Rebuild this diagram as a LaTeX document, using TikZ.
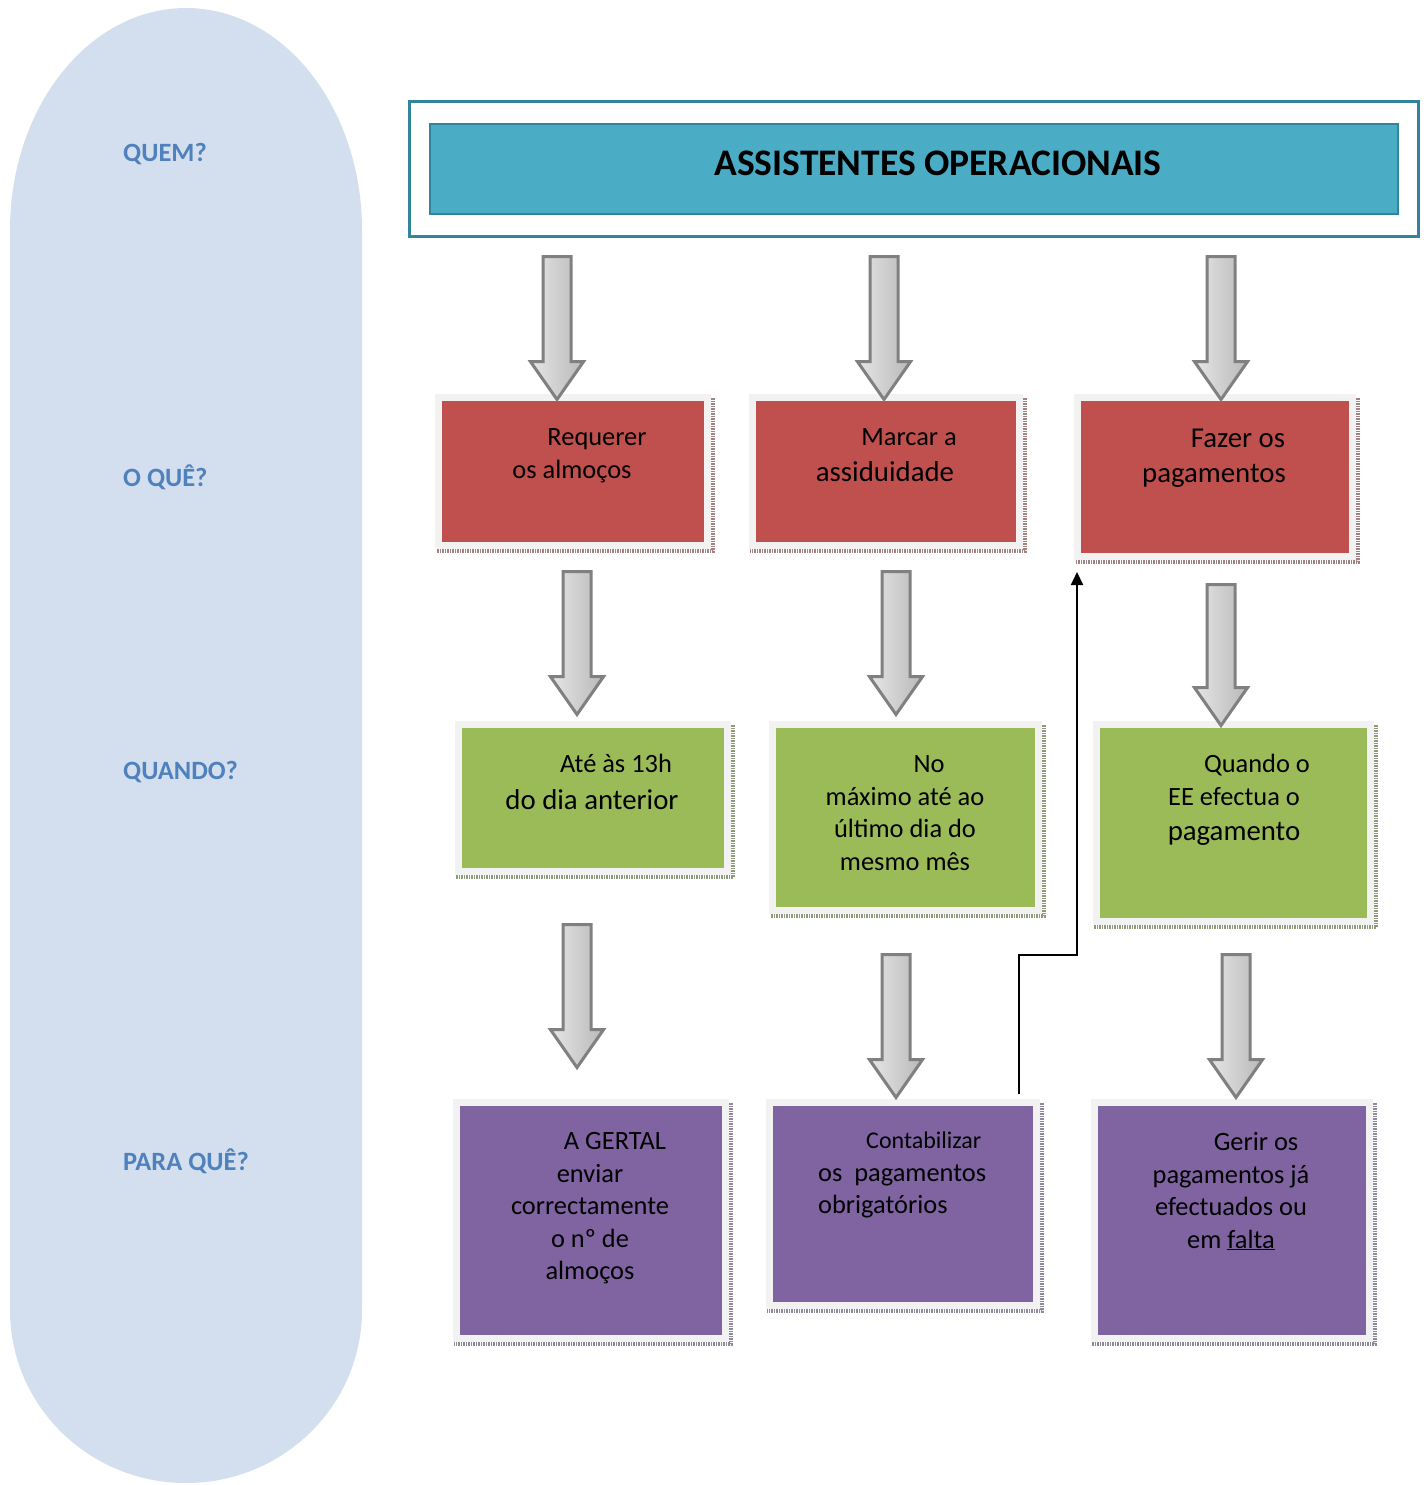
\documentclass[tikz,border=0pt]{standalone}
\usepackage{fontspec}
\setmainfont{Carlito}
\usetikzlibrary{positioning,arrows.meta,shapes.arrows}
\definecolor{pillblue}{HTML}{D3DFEE}
\definecolor{lblblue}{HTML}{4F81BD}
\definecolor{titlefill}{HTML}{4BACC6}
\definecolor{titleline}{HTML}{31849B}
\definecolor{redfill}{HTML}{C0504D}
\definecolor{greenfill}{HTML}{9BBB59}
\definecolor{purplefill}{HTML}{8064A2}
\definecolor{framegray}{HTML}{F2F2F2}
\definecolor{redshd}{HTML}{A08282}
\definecolor{greenshd}{HTML}{8E987A}
\definecolor{purpleshd}{HTML}{8F8899}
\newcommand{\fsmall}{\fontsize{24}{29}\selectfont}
\newcommand{\fnorm}{\fontsize{26.4}{32.5}\selectfont}
\newcommand{\fbig}{\fontsize{28.8}{35}\selectfont}
\tikzset{
  lbl/.style={font=\fnorm\bfseries, text=lblblue, inner sep=0, anchor=base west},
  card/.style={draw=framegray, line width=7pt, inner sep=0},
  txt/.style={font=\fnorm, align=center, inner sep=0, anchor=north},
  shd/.style={line width=3.5pt, dash pattern=on 1.5pt off 1pt},
  down/.style={single arrow, rotate=-90, anchor=tail, draw=gray, line width=3pt,
               minimum height=143pt, inner xsep=0, inner ysep=12.5pt,
               single arrow head extend=12.5pt, single arrow tip angle=70,
               shading=axis, left color=gray!20, right color=gray!55},
  link/.style={-{Triangle[length=13pt,width=12pt]}, line width=2pt},
}
\begin{document}
\begin{tikzpicture}[x=1pt,y=1pt]
  \useasboundingbox (0,0) rectangle (1425,-1485);
  % left band
  \fill[pillblue] (10,-230) arc[start angle=180, end angle=0, x radius=176pt, y radius=222pt]
    -- (362,-1310) arc[start angle=0, end angle=-180, x radius=176pt, y radius=173pt] -- cycle;
  \node[lbl] (quem) at (123,-161) {QUEM?};
  \node[lbl] (oque) at (123,-486) {O QUÊ?};
  \node[lbl] (quando) at (123,-779) {QUANDO?};
  \node[lbl] (paraque) at (123,-1170) {PARA QUÊ?};

  % title
  \node[draw=titleline, line width=3pt, fill=white, minimum width=1009pt,
        minimum height=134pt, inner sep=0] (hdr) at (913.5,-169) {};
  \node[draw=titleline, line width=2pt, fill=titlefill, minimum width=968pt,
        minimum height=90pt, inner sep=0] (hdrin) at (914,-169) {};
  \node[font=\fontsize{37.5}{44}\selectfont\bfseries, inner sep=0, anchor=base]
    (title) at (938,-175) {ASSISTENTES OPERACIONAIS};

  % o que?
  \node[card, fill=redfill, minimum width=269pt, minimum height=148pt] (r1) at (573,-471.5) {};
  \node[card, fill=redfill, minimum width=267pt, minimum height=148pt] (r2) at (886,-471.5) {};
  \node[card, fill=redfill, minimum width=275pt, minimum height=159pt] (r3) at (1215,-477) {};
  % quando?
  \node[card, fill=greenfill, minimum width=269pt, minimum height=147pt] (g1) at (593,-798) {};
  \node[card, fill=greenfill, minimum width=266pt, minimum height=186pt] (g2) at (905.5,-817.5) {};
  \node[card, fill=greenfill, minimum width=274pt, minimum height=197pt] (g3) at (1233.5,-823) {};
  % para que?
  \node[card, fill=purplefill, minimum width=269pt, minimum height=236pt] (p1) at (591,-1220.5) {};
  \node[card, fill=purplefill, minimum width=267pt, minimum height=203pt] (p2) at (903,-1204) {};
  \node[card, fill=purplefill, minimum width=275pt, minimum height=236pt] (p3) at (1232,-1220.5) {};

  % shadows
  \foreach \b/\c in {r1/redshd,r2/redshd,r3/redshd,g1/greenshd,g2/greenshd,g3/greenshd,
                     p1/purpleshd,p2/purpleshd,p3/purpleshd}
    \draw[shd, \c] ([xshift=2pt,yshift=-4pt]\b.north east) -- ([xshift=2pt,yshift=-2pt]\b.south east)
      -- ([xshift=1pt,yshift=-2pt]\b.south west);

  % texts
  \node[txt] (r1t) at (572,-422.6) {\strut\hspace*{50pt}Requerer\\os almoços};
  \node[txt] (r2t) at (885,-422.6) {\strut\hspace*{48pt}Marcar a\\[3pt]{\fbig assiduidade}};
  \node[txt, font=\fbig] (r3t) at (1214,-422.5) {\strut\hspace*{48pt}Fazer os\\pagamentos};
  \node[txt] (g1t) at (592,-749.6) {\strut\hspace*{48pt}Até às 13h\\[4pt]{\fbig do dia anterior}};
  \node[txt] (g2t) at (905,-749.6) {\strut\hspace*{48pt}No\\máximo até ao\\último dia do\\mesmo mês};
  \node[txt] (g3t) at (1234,-749.6) {\strut\hspace*{46pt}Quando o\\EE efectua o\\[3pt]{\fbig pagamento}};
  \node[txt] (p1t) at (590,-1126.6)
    {\strut\hspace*{50pt}A GERTAL\\enviar\\correctamente\\o nº de\\almoços};
  \node[txt, align=left, anchor=north west] (p2t) at (818,-1125.6)
    {\strut\hspace*{48pt}{\fsmall Contabilizar}\\os\ \ pagamentos\\obrigatórios};
  \node[txt] (p3t) at (1231,-1127.6)
    {\strut\hspace*{50pt}Gerir os\\pagamentos já\\efectuados ou\\em \underline{falta}};

  % block arrows
  \node[down] (a1) at (557,-255) {};
  \node[down] (a2) at (884,-255) {};
  \node[down] (a3) at (1221,-255) {};
  \node[down] (a4) at (577,-570) {};
  \node[down] (a5) at (896,-570) {};
  \node[down, minimum height=141pt] (a6) at (1221,-583) {};
  \node[down] (a7) at (577,-923) {};
  \node[down] (a8) at (896,-953) {};
  \node[down] (a9) at (1236,-953) {};

  % back link
  \coordinate (bend) at (1077,-955);
  \draw[link] ([xshift=-21pt,yshift=5pt]p2.north east) |- (bend)
    -- ([yshift=-12pt]bend |- r3.south);
\end{tikzpicture}
\end{document}
